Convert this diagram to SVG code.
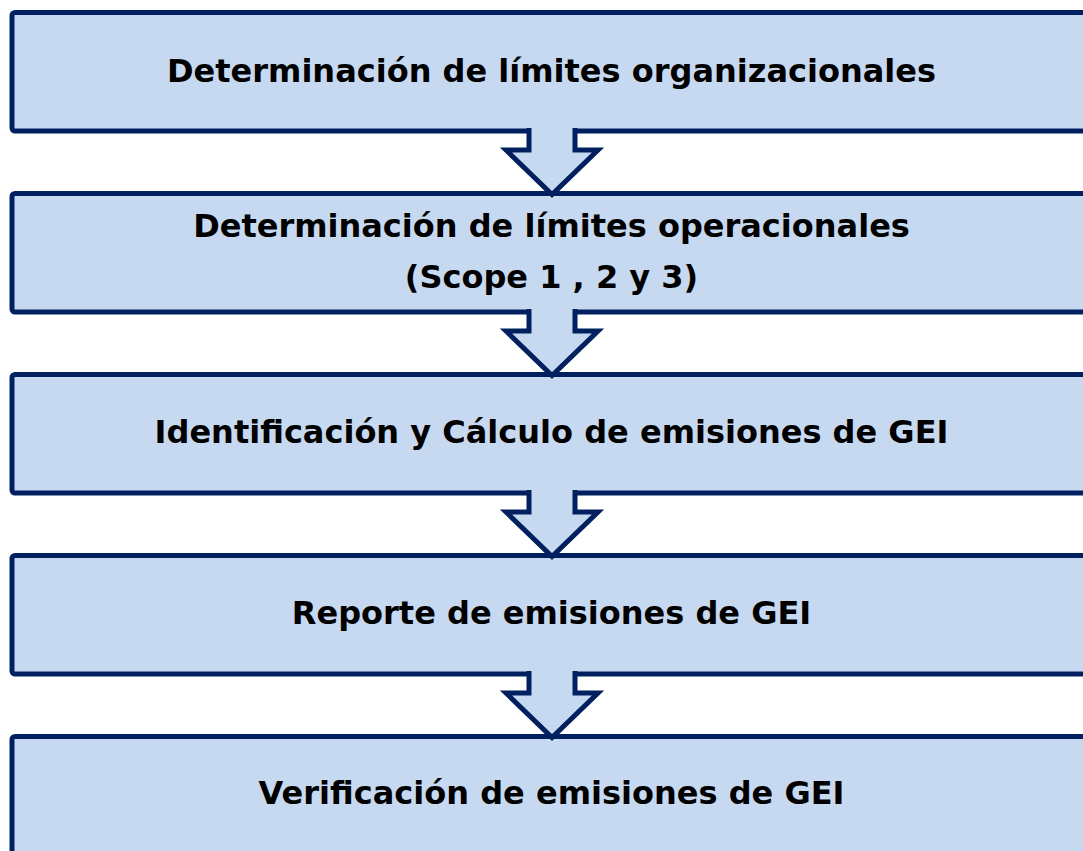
<svg xmlns="http://www.w3.org/2000/svg" width="1083" height="851" viewBox="0 0 1083 851">
  <style>
    .box { fill: #C6D9F1; stroke: #002060; stroke-width: 5; }
    .arrow { fill: #C6D9F1; stroke: #002060; stroke-width: 5; stroke-linejoin: miter; }
    .label { font-family: "DejaVu Sans", Verdana, sans-serif; font-weight: bold; font-size: 32px; fill: #000; text-anchor: middle; }
  </style>
  <rect width="1083" height="851" fill="#FFFFFF"/>
  <g id="node1">
    <rect class="box" x="12" y="12.5" width="1100" height="118.5" rx="3"/>
    <text class="label" x="551.5" y="82">Determinación de límites organizacionales</text>
  </g>
  <g id="node2">
    <rect class="box" x="12" y="193.5" width="1100" height="118.5" rx="3"/>
    <text class="label" x="551.5" y="237">Determinación de límites operacionales</text>
    <text class="label" x="551.5" y="288">(Scope 1 , 2 y 3)</text>
  </g>
  <g id="node3">
    <rect class="box" x="12" y="374.5" width="1100" height="118.5" rx="3"/>
    <text class="label" x="551.5" y="443">Identificación y Cálculo de emisiones de GEI</text>
  </g>
  <g id="node4">
    <rect class="box" x="12" y="555.5" width="1100" height="118.5" rx="3"/>
    <text class="label" x="551.5" y="624">Reporte de emisiones de GEI</text>
  </g>
  <g id="node5">
    <rect class="box" x="12" y="736.5" width="1100" height="130" rx="3"/>
    <text class="label" x="551.5" y="804">Verificación de emisiones de GEI</text>
  </g>
  <g id="connectors">
    <path class="arrow" d="M529,128 V150 H506 L552,194.5 L598,150 H575 V128"/>
    <path class="arrow" d="M529,309 V331 H506 L552,375.5 L598,331 H575 V309"/>
    <path class="arrow" d="M529,490 V512 H506 L552,556.5 L598,512 H575 V490"/>
    <path class="arrow" d="M529,671 V693 H506 L552,737.5 L598,693 H575 V671"/>
  </g>
</svg>
